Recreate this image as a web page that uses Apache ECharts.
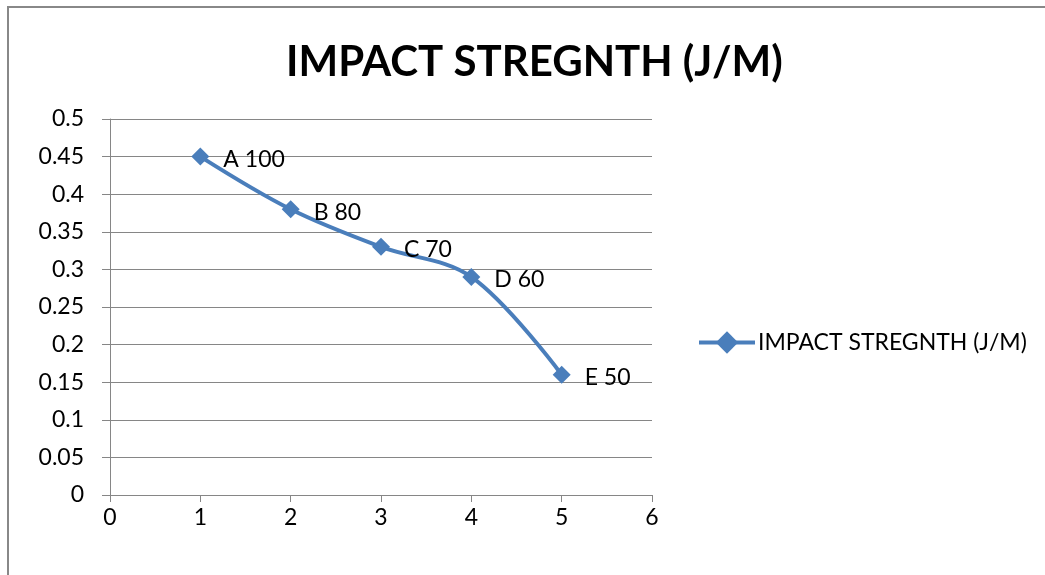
<!DOCTYPE html>
<html>
<head>
<meta charset="utf-8">
<script src="https://cdn.jsdelivr.net/npm/echarts@6/dist/echarts.min.js"></script>
<style>html,body{margin:0;padding:0;background:#fff;}#c{width:1045px;height:575px;}</style>
</head>
<body>
<div id="c"></div>
<script>
var seriesName = 'IMPACT STREGNTH (J/M)';
var xValues = [1, 2, 3, 4, 5];
var yValues = [0.45, 0.38, 0.33, 0.29, 0.16];
var pointLabels = ['A 100', 'B 80', 'C 70', 'D 60', 'E 50'];

var FONT = 'Lato, "Open Sans", sans-serif';
var chart = echarts.init(document.getElementById('c'), null, {renderer: 'canvas'});
var data = xValues.map(function (x, i) { return {value: [x, yValues[i]], label: {formatter: pointLabels[i]}}; });
chart.setOption({
  animation: false,
  backgroundColor: '#fff',
  title: {
    text: seriesName,
    left: 281,
    top: 36,
    textStyle: {fontFamily: FONT, fontWeight: 'bold', fontSize: 42, color: '#000'}
  },
  graphic: [{
    type: 'polyline',
    shape: {points: [[8, 600], [8, 7], [1060, 7]]},
    style: {stroke: '#888', lineWidth: 2, fill: null}
  }],
  legend: {
    left: 697, top: 331, padding: 0,
    itemWidth: 56, itemHeight: 28, itemGap: 4,
    lineStyle: {width: 4},
    textStyle: {fontFamily: FONT, fontSize: 23, color: '#000', padding: [0, 0, 0, -2]},
    data: [{name: seriesName}]
  },
  grid: {left: 110, right: 393, top: 119, bottom: 80},
  xAxis: {
    type: 'value', min: 0, max: 6, interval: 1,
    axisLine: {show: true, onZero: false, lineStyle: {color: '#868686', width: 1}},
    axisTick: {show: true, length: 7, lineStyle: {color: '#868686'}},
    axisLabel: {fontFamily: FONT, fontSize: 23, color: '#000', margin: 11},
    splitLine: {show: false}
  },
  yAxis: {
    type: 'value', min: 0, max: 0.5, interval: 0.05,
    axisLine: {show: true, lineStyle: {color: '#868686', width: 1}},
    axisTick: {show: true, length: 8, lineStyle: {color: '#868686'}},
    axisLabel: {fontFamily: FONT, fontSize: 23, color: '#000', margin: 26,
      formatter: function (v) { return String(+v.toFixed(2)); }},
    splitLine: {show: true, lineStyle: {color: '#868686', width: 1}}
  },
  series: [{
    name: seriesName,
    type: 'line',
    data: data,
    smooth: 0.35,
    symbol: 'diamond',
    symbolSize: 18,
    itemStyle: {color: '#4A7EBB'},
    lineStyle: {color: '#4A7EBB', width: 4},
    label: {show: true, position: 'right', distance: 14,
      fontFamily: FONT, fontSize: 23, color: '#000', offset: [0, 3]}
  }]
});
</script>
</body>
</html>
